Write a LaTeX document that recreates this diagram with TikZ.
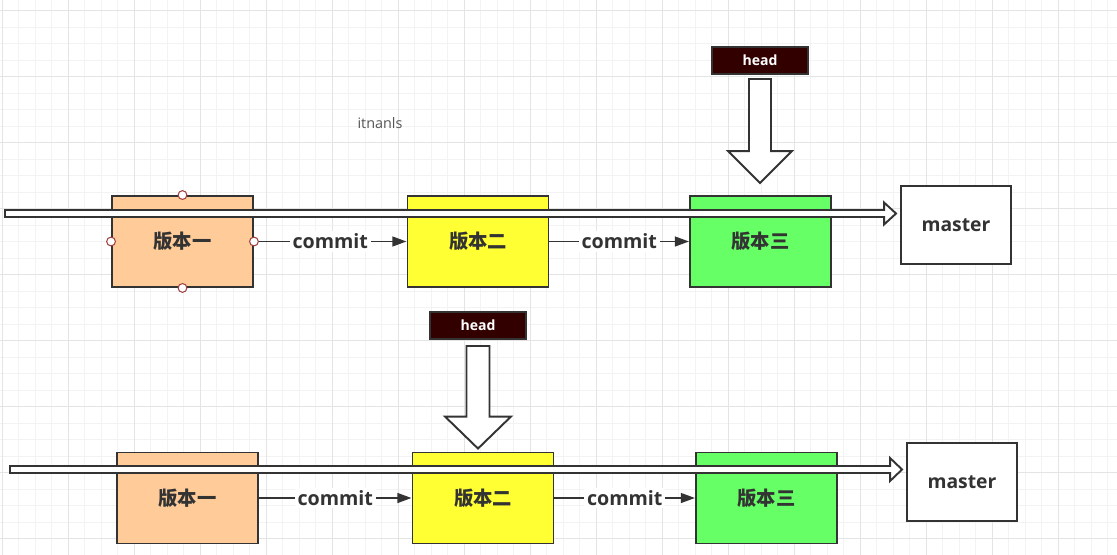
\documentclass[tikz,border=0pt]{standalone}
\usepackage{fontspec}
\setmainfont{Open Sans}
\newfontfamily\cjk{Noto Sans CJK SC}
\usetikzlibrary{positioning, arrows.meta, calc}
\definecolor{verPeach}{RGB}{255,204,153}
\definecolor{verYellow}{RGB}{255,255,51}
\definecolor{verGreen}{RGB}{102,255,102}
\definecolor{headBrown}{RGB}{51,0,0}
\definecolor{inkGray}{RGB}{51,51,51}
\definecolor{noteGray}{RGB}{85,85,85}
\definecolor{gridMinorGray}{RGB}{243,243,243}
\definecolor{gridMajorGray}{RGB}{228,228,228}
\definecolor{handleRed}{RGB}{160,64,64}

\begin{document}
\begin{tikzpicture}[x=0.02cm, y=-0.02cm,
	verbox/.style={draw=inkGray, line width=1.1pt, minimum width=2.82cm, minimum height=1.82cm, text=inkGray, font={\cjk\bfseries\fontsize{11}{13}\selectfont}},
	masterbox/.style={draw=inkGray, fill=white, line width=1.1pt, minimum width=2.2cm, minimum height=1.56cm, text=inkGray, font={\bfseries\fontsize{11}{13}\selectfont}},
	headbox/.style={draw=inkGray, fill=headBrown, line width=1.1pt, minimum width=1.92cm, minimum height=0.54cm, inner sep=0pt, text=white, font={\bfseries\fontsize{8}{10}\selectfont}},
	note/.style={text=noteGray, font={\fontsize{8.2}{10}\selectfont}},
	commit/.style={draw=inkGray, line width=1.1pt, -{Triangle[length=8pt, width=5.5pt]}},
	lbl/.style={fill=white, inner sep=1.5pt, text=inkGray, font={\bfseries\fontsize{11.2}{13}\selectfont}},
	rail/.style={draw=inkGray, fill=white, line width=1.1pt, line join=miter},
	handle/.style={draw=handleRed, fill=white, line width=0.6pt},
	gridMinor/.style={draw=gridMinorGray, line width=0.6pt},
	gridMajor/.style={draw=gridMajorGray, line width=0.6pt}]
	\useasboundingbox[fill=white] (0,0) rectangle (1117,555);
	\foreach \i in {0,...,67} \draw[gridMinor] ({2.3+16.5*\i},0) -- ({2.3+16.5*\i},555);
	\foreach \j in {0,...,33} \draw[gridMinor] (0,{10.7+16.5*\j}) -- (1117,{10.7+16.5*\j});
	\foreach \i in {0,...,16} \draw[gridMajor] ({2.3+66*\i},0) -- ({2.3+66*\i},555);
	\foreach \j in {0,...,8} \draw[gridMajor] (0,{10.7+66*\j}) -- (1117,{10.7+66*\j});

	\node[note] (nT) at (380,123) {itnanls};

	\node[verbox, fill=verPeach] (v1T) at (182.5,241.5) {版本一};
	\node[verbox, fill=verYellow] (v2T) at (478,241.5) {版本二};
	\node[verbox, fill=verGreen] (v3T) at (760.5,241.5) {版本三};
	\node[masterbox] (mT) at (956,225) {master};
	\node[headbox] (hT) at (760,60.5) {head};

	\node[verbox, fill=verPeach] (v1B) at (187.5,498) {版本一};
	\node[verbox, fill=verYellow] (v2B) at (483,498) {版本二};
	\node[verbox, fill=verGreen] (v3B) at (766.5,498) {版本三};
	\node[masterbox] (mB) at (962,482) {master};
	\node[headbox] (hB) at (478,325.5) {head};

	\draw[commit] (v1T) -- node[lbl] {commit} (v2T);
	\draw[commit] (v2T) -- node[lbl] {commit} (v3T);
	\draw[commit] (v1B) -- node[lbl] {commit} (v2B);
	\draw[commit] (v2B) -- node[lbl] {commit} (v3B);

	\coordinate (railT) at (5,213.5);
	\coordinate (tipRT) at ($(mT.west |- railT)+(-4,0)$);
	\draw[rail] ($(railT)+(0,-3.5)$) -- ($(tipRT)+(-12,-3.5)$) -- ++(0,-7.5) -- (tipRT) -- ++(-12,11) -- ++(0,-7.5) -- ($(railT)+(0,3.5)$) -- cycle;
	\coordinate (railB) at (10,469.5);
	\coordinate (tipRB) at ($(mB.west |- railB)+(-4,0)$);
	\draw[rail] ($(railB)+(0,-3.5)$) -- ($(tipRB)+(-12,-3.5)$) -- ++(0,-8) -- (tipRB) -- ++(-12,11.5) -- ++(0,-8) -- ($(railB)+(0,3.5)$) -- cycle;

	\coordinate (tipHT) at ($(hT.south |- v3T.north)+(0,-12)$);
	\draw[rail] ($(hT.south)+(-11,4)$) -- ($(tipHT)+(-11,-32)$) -- ++(-21,0) -- (tipHT) -- ++(32,-32) -- ++(-21,0) -- ($(hT.south)+(11,4)$) -- cycle;
	\coordinate (tipHB) at ($(hB.south |- v2B.north)+(0,-3)$);
	\draw[rail] ($(hB.south)+(-11.5,6)$) -- ($(tipHB)+(-11.5,-32)$) -- ++(-21.5,0) -- (tipHB) -- ++(33,-32) -- ++(-21.5,0) -- ($(hB.south)+(11.5,6)$) -- cycle;

	\foreach \a in {north,south,east,west} \draw[handle] (v1T.\a) circle[radius=2.5pt];
\end{tikzpicture}
\end{document}
